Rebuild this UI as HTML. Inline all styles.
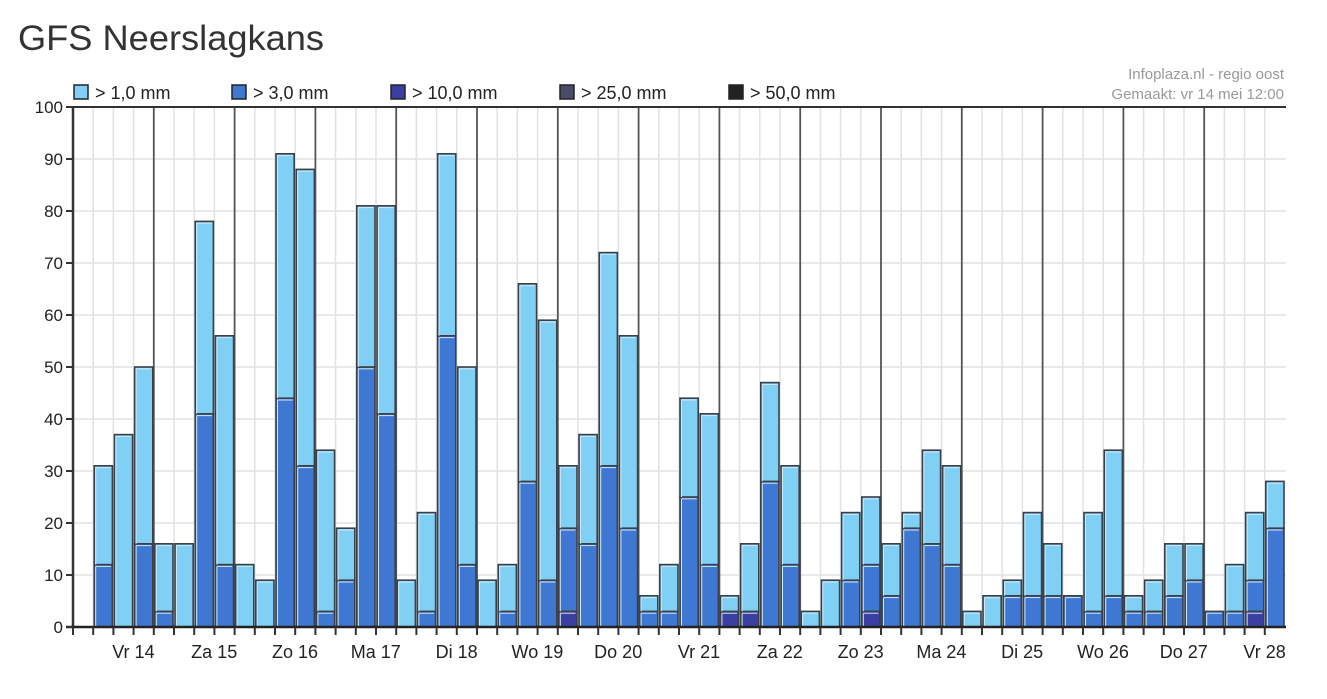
<!DOCTYPE html>
<html><head><meta charset="utf-8">
<style>
html,body{margin:0;padding:0;background:#fff;}
svg{display:block;font-family:"Liberation Sans",Arial,sans-serif;}
</style></head>
<body>
<svg id="c" width="1327" height="699" viewBox="0 0 1327 699" xmlns="http://www.w3.org/2000/svg">
<text x="18" y="50" font-size="35" fill="#333" textLength="306" lengthAdjust="spacingAndGlyphs">GFS Neerslagkans</text>
</svg>
<script>
var s=document.getElementById('c'),NS='http://www.w3.org/2000/svg';
function el(t,a,txt){var e=document.createElementNS(NS,t);for(var k in a)e.setAttribute(k,a[k]);if(txt!=null)e.textContent=txt;s.appendChild(e);return e;}
var X0=73,SW=20.2,Y0=627,PU=5.2,XR=1286;
function y(v){return Y0-v*PU;}
for(var v=10;v<100;v+=10)el('line',{x1:X0,x2:XR,y1:y(v),y2:y(v),stroke:'#e2e2e2','stroke-width':1.5});
for(var i=1;i<60;i++){var x=X0+i*SW;var day=(i%4==0);el('line',{x1:x,x2:x,y1:107,y2:Y0,stroke:day?'#555':'#e2e2e2','stroke-width':day?1.8:1.5});}
var d=[[31,12,0],[37,0,0],[50,16,0],
[16,3,0],[16,0,0],[78,41,0],[56,12,0],
[12,0,0],[9,0,0],[91,44,0],[88,31,0],
[34,3,0],[19,9,0],[81,50,0],[81,41,0],
[9,0,0],[22,3,0],[91,56,0],[50,12,0],
[9,0,0],[12,3,0],[66,28,0],[59,9,0],
[31,19,3],[37,16,0],[72,31,0],[56,19,0],
[6,3,0],[12,3,0],[44,25,0],[41,12,0],
[6,3,3],[16,3,3],[47,28,0],[31,12,0],
[3,0,0],[9,0,0],[22,9,0],[25,12,3],
[16,6,0],[22,19,0],[34,16,0],[31,12,0],
[3,0,0],[6,0,0],[9,6,0],[22,6,0],
[16,6,0],[6,6,0],[22,3,0],[34,6,0],
[6,3,0],[9,3,0],[16,6,0],[16,9,0],
[3,3,0],[12,3,0],[22,9,3],[28,19,0]];
function bar(x,v0,v1,c){if(v1<=v0)return;el('rect',{x:x+1,y:y(v1),width:SW-2,height:(v1-v0)*PU,fill:c,stroke:'#3a3f48','stroke-width':1.6});
el('line',{x1:x+2.5,x2:x+SW-2.5,y1:y(v1)+1.8,y2:y(v1)+1.8,stroke:'#cfe8f5','stroke-width':1});
el('line',{x1:x+2.5,x2:x+2.5,y1:y(v1)+1.8,y2:y(v0),stroke:'#cfe8f5','stroke-width':1});}
d.forEach(function(b,i){var x=X0+(i+1)*SW;
bar(x,0,b[2],'#3b3fa3');bar(x,b[2],b[1],'#3f78d2');bar(x,b[1],b[0],'#80d0f6');});
el('line',{x1:X0,x2:XR,y1:107,y2:107,stroke:'#333','stroke-width':2});
el('line',{x1:X0,x2:X0,y1:106,y2:Y0+1,stroke:'#333','stroke-width':2.5});
el('line',{x1:X0-7,x2:XR,y1:Y0,y2:Y0,stroke:'#222','stroke-width':2.5});
for(var v=0;v<=100;v+=10){el('line',{x1:X0-7,x2:X0,y1:y(v),y2:y(v),stroke:'#333','stroke-width':2});
el('text',{x:63,y:y(v)+6,'font-size':17,'text-anchor':'end',fill:'#222'},String(v));}
for(var i=0;i<60;i++){var x=X0+i*SW;el('line',{x1:x,x2:x,y1:Y0,y2:Y0+8,stroke:'#333','stroke-width':2});}
var L=['Vr 14','Za 15','Zo 16','Ma 17','Di 18','Wo 19','Do 20','Vr 21','Za 22','Zo 23','Ma 24','Di 25','Wo 26','Do 27','Vr 28'];
L.forEach(function(t,k){el('text',{x:X0+k*4*SW+2*SW+20,y:658,'font-size':18,'text-anchor':'middle',fill:'#222'},t);});
var lg=[[74,'#80d0f6','> 1,0 mm'],[232,'#3f78d2','> 3,0 mm'],[391,'#3b3fa3','> 10,0 mm'],[560,'#4a4a6a','> 25,0 mm'],[729,'#222','> 50,0 mm']];
lg.forEach(function(l){el('rect',{x:l[0],y:85,width:14,height:14,fill:l[1],stroke:'#222','stroke-width':1.5});
el('text',{x:l[0]+21,y:99,'font-size':18,fill:'#222'},l[2]);});
el('text',{x:1284,y:79,'font-size':15,'text-anchor':'end',fill:'#999'},'Infoplaza.nl - regio oost');
el('text',{x:1284,y:99,'font-size':15,'text-anchor':'end',fill:'#999'},'Gemaakt: vr 14 mei 12:00');
</script>
</body></html>
